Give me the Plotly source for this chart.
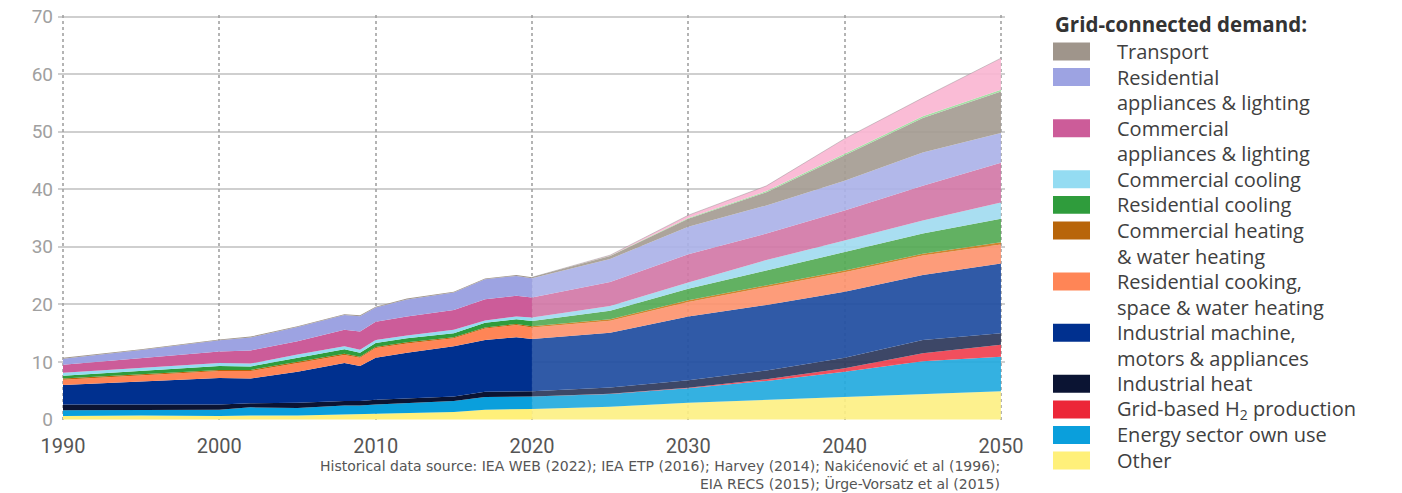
import plotly.graph_objects as go

# historical (to 2020) and projected (2020-2050) electricity demand, stacked bottom -> top
years_hist = [1990, 1995, 2000, 2002, 2005, 2008, 2009, 2010, 2012, 2015, 2017, 2019, 2020]
years_proj = [2020, 2025, 2030, 2035, 2040, 2045, 2050]

other_hist = [0.6, 0.7, 0.6, 0.7, 0.7, 0.9, 0.9, 1.0, 1.1, 1.3, 1.7, 1.8, 1.8]
energy_hist = [1.0, 1.0, 1.1, 1.4, 1.3, 1.5, 1.5, 1.6, 1.7, 1.9, 2.2, 2.2, 2.2]
h2_hist = [0, 0, 0, 0, 0, 0, 0, 0, 0, 0, 0, 0, 0]
indheat_hist = [1.0, 0.9, 0.9, 0.7, 0.9, 0.8, 0.8, 0.8, 0.8, 0.8, 0.9, 0.9, 0.9]
indmach_hist = [3.4, 4.0, 4.6, 4.3, 5.4, 6.6, 6.1, 7.3, 8.0, 8.7, 9.0, 9.4, 9.1]
rescook_hist = [0.9, 1.0, 1.2, 1.3, 1.5, 1.4, 1.4, 1.7, 1.6, 1.4, 2.0, 2.1, 2.0]
comheat_hist = [0.2, 0.2, 0.2, 0.2, 0.2, 0.2, 0.2, 0.2, 0.2, 0.2, 0.2, 0.2, 0.2]
rescool_hist = [0.5, 0.6, 0.7, 0.6, 0.7, 0.8, 0.7, 0.7, 0.7, 0.7, 0.8, 0.8, 0.9]
comcool_hist = [0.5, 0.5, 0.5, 0.5, 0.6, 0.5, 0.5, 0.5, 0.5, 0.6, 0.4, 0.5, 0.6]
comapp_hist = [1.4, 1.8, 2.0, 2.3, 2.3, 2.9, 3.2, 3.2, 3.3, 3.4, 3.7, 3.6, 3.5]
resapp_hist = [1.05, 1.35, 1.95, 2.25, 2.45, 2.55, 2.65, 2.45, 2.95, 3.05, 3.45, 3.45, 3.35]
transport_hist = [0.15, 0.15, 0.15, 0.15, 0.15, 0.15, 0.15, 0.15, 0.15, 0.15, 0.15, 0.15, 0.15]

other_proj = [1.8, 2.2, 2.9, 3.4, 3.8, 4.3, 4.9]
energy_proj = [2.2, 2.2, 2.5, 3.3, 4.5, 5.8, 6.0]
h2_proj = [0, 0.05, 0.1, 0.3, 0.6, 1.4, 2.1]
indheat_proj = [0.9, 1.1, 1.3, 1.5, 1.8, 2.3, 2.0]
indmach_proj = [9.1, 9.5, 11.1, 11.4, 11.5, 11.3, 12.1]
rescook_proj = [2.0, 2.1, 2.5, 3.1, 3.4, 3.4, 3.3]
comheat_proj = [0.2, 0.25, 0.3, 0.3, 0.3, 0.3, 0.4]
rescool_proj = [0.9, 1.5, 2.0, 2.6, 3.2, 3.5, 4.1]
comcool_proj = [0.6, 0.8, 1.1, 1.8, 2.0, 2.3, 2.8]
comapp_proj = [3.5, 4.2, 4.9, 4.6, 5.2, 6.0, 6.9]
resapp_proj = [3.35, 4.0, 4.8, 4.9, 5.2, 5.8, 5.2]
transport_proj = [0.15, 0.5, 1.4, 2.3, 4.4, 6.0, 7.2]
extra_green_proj = [0, 0.05, 0.1, 0.2, 0.3, 0.3, 0.3]
extra_pink_proj = [0, 0.1, 0.5, 0.9, 2.6, 3.2, 5.5]

# name, historical colour, projection colour, hist values, proj values
series = [
    ("Other", "#fff07a", "rgba(253,240,130,0.9)", other_hist, other_proj),
    ("Energy sector own use", "#0a9fdc", "rgba(35,170,222,0.92)", energy_hist, energy_proj),
    ("Grid-based H<sub>2</sub> production", "#ec2738", "rgba(240,60,75,0.9)", h2_hist, h2_proj),
    ("Industrial heat", "#0b1433", "rgba(45,55,90,0.92)", indheat_hist, indheat_proj),
    ("Industrial machine,<br>motors & appliances", "#00308f", "rgba(35,80,162,0.94)", indmach_hist, indmach_proj),
    ("Residential cooking,<br>space & water heating", "#ff8556", "rgba(253,145,108,0.9)", rescook_hist, rescook_proj),
    ("Commercial heating<br>& water heating", "#b8650a", "rgba(205,120,25,0.9)", comheat_hist, comheat_proj),
    ("Residential cooling", "#2f9c3c", "rgba(85,170,85,0.92)", rescool_hist, rescool_proj),
    ("Commercial cooling", "#94dcf2", "rgba(160,218,240,0.9)", comcool_hist, comcool_proj),
    ("Commercial<br>appliances & lighting", "#cc5c99", "rgba(210,118,165,0.9)", comapp_hist, comapp_proj),
    ("Residential<br>appliances & lighting", "#9da3e2", "rgba(170,176,232,0.9)", resapp_hist, resapp_proj),
    ("Transport", "#9f958b", "rgba(165,156,146,0.92)", transport_hist, transport_proj),
]

fig = go.Figure()

for name, c_hist, c_proj, v_hist, v_proj in series:
    fig.add_trace(go.Scatter(x=years_hist, y=v_hist, stackgroup="hist", mode="lines",
                             line=dict(width=0, color=c_hist), fillcolor=c_hist,
                             name=name, showlegend=False))
for name, c_hist, c_proj, v_hist, v_proj in series:
    fig.add_trace(go.Scatter(x=years_proj, y=v_proj, stackgroup="proj", mode="lines",
                             line=dict(width=0, color=c_proj), fillcolor=c_proj,
                             name=name, showlegend=False))
fig.add_trace(go.Scatter(x=years_proj, y=extra_green_proj, stackgroup="proj", mode="lines",
                         line=dict(width=0), fillcolor="rgba(160,222,160,0.95)", showlegend=False))
fig.add_trace(go.Scatter(x=years_proj, y=extra_pink_proj, stackgroup="proj", mode="lines",
                         line=dict(width=0.6, color="rgba(120,120,120,0.6)"),
                         fillcolor="rgba(250,182,210,0.92)", showlegend=False))

# page has an 8px body margin, so the figure is drawn 8px in from the window corner
OFF = 8
W, H = 1402 - OFF, 493 - OFF
# plot area in window pixels
L, R, T, B = 58, 1005, 14.5, 420


def px_x(px):
    return (px - L) / (R - L)


def px_y(py):
    return (B - py) / (B - T)


legend_font = dict(family="Open Sans, sans-serif", size=20, color="#404040")

fig.add_annotation(x=px_x(1054), y=px_y(OFF), xref="paper", yref="paper", xanchor="left",
                   yanchor="top", text="<b>Grid-connected demand:</b>", showarrow=False,
                   borderpad=0, font=dict(family="Open Sans, sans-serif", size=20.5, color="#333"))

row = 0
for name, c_hist, c_proj, v_hist, v_proj in reversed(series):
    lines = name.split("<br>")
    cy = 51 + 25.6 * row
    fig.add_shape(type="rect", xref="paper", yref="paper",
                  x0=px_x(1053), x1=px_x(1090), y0=px_y(cy + 9), y1=px_y(cy - 9),
                  fillcolor=c_hist, line=dict(width=0))
    for i, ln in enumerate(lines):
        fig.add_annotation(x=px_x(1116), y=px_y(cy + 25.6 * i), xref="paper", yref="paper",
                           xanchor="left", yanchor="middle", text=ln, showarrow=False,
                           borderpad=0, font=legend_font)
    row += len(lines)

src_lines = ["Historical data source: IEA WEB (2022); IEA ETP (2016); Harvey (2014); Nakićenović et al (1996);",
             "EIA RECS (2015); Ürge-Vorsatz et al (2015)"]
for i, s in enumerate(src_lines):
    fig.add_annotation(x=px_x(1001), y=px_y(466 + 17.5 * i), xref="paper", yref="paper",
                       xanchor="right", yanchor="middle", text=s, showarrow=False, borderpad=0,
                       font=dict(family="DejaVu Sans, sans-serif", size=14, color="#555"))

fig.update_layout(
    width=W, height=H,
    margin=dict(l=L - OFF, r=W - (R - OFF), t=T - OFF, b=H - (B - OFF), autoexpand=False),
    plot_bgcolor="white", paper_bgcolor="white",
    showlegend=False,
)
fig.update_xaxes(range=[1989.68, 2050.26], tickvals=[1990, 2000, 2010, 2020, 2030, 2040, 2050],
                 showgrid=True, gridcolor="rgba(130,130,130,0.6)", gridwidth=1.5, griddash="dot",
                 zeroline=False, showline=False, ticks="", ticklabelstandoff=12,
                 layer="above traces",
                 tickfont=dict(family="Roboto, sans-serif", size=20, color="#555"))
fig.update_yaxes(range=[-0.1, 70.3], tickvals=[0, 10, 20, 30, 40, 50, 60, 70], showgrid=True,
                 gridcolor="rgba(160,160,160,0.5)", gridwidth=2, zeroline=False, showline=False,
                 ticks="", ticklabelstandoff=4, layer="above traces", ticklabeloverflow="allow",
                 tickfont=dict(family="Roboto, sans-serif", size=19, color="#a0a0a0"))

fig.write_html("out.html")
